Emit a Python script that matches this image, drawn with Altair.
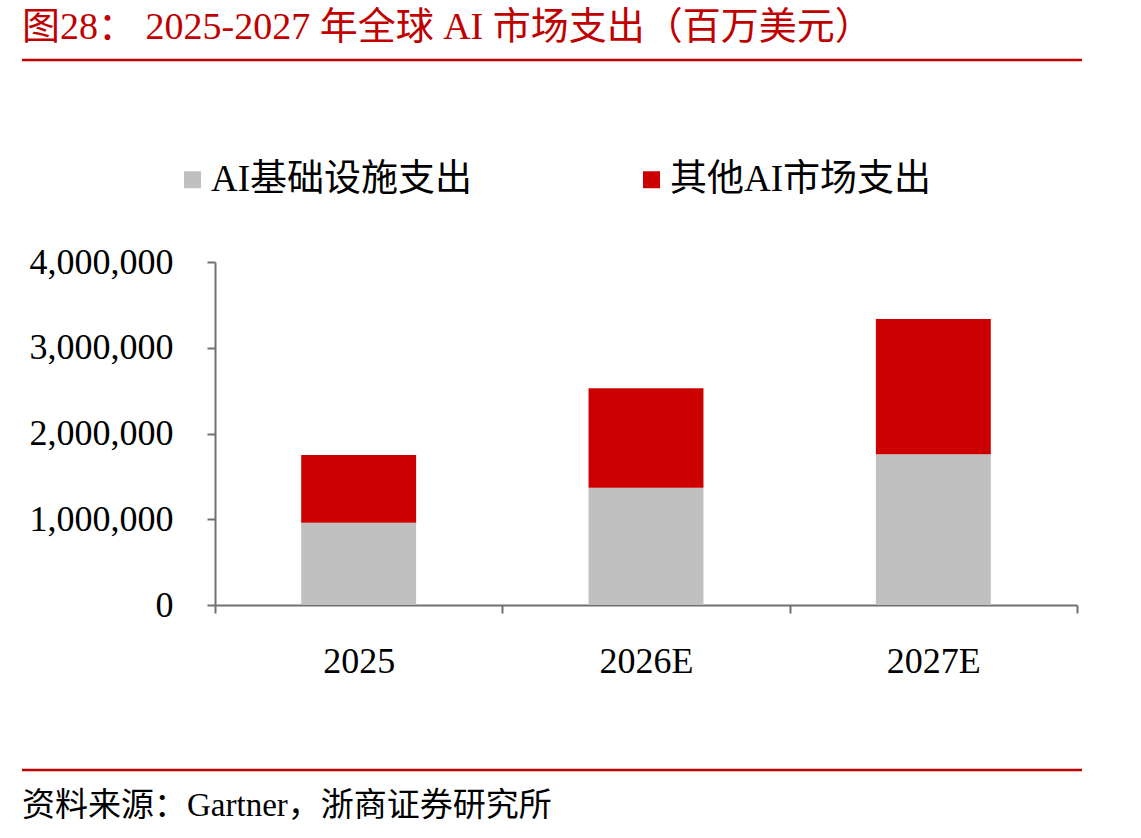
import altair as alt
import pandas as pd

years = ["2025", "2026E", "2027E"]
infra = [960000, 1368000, 1757000]
other = [789000, 1159000, 1578000]
series = ["AI基础设施支出", "其他AI市场支出"]
colors = ["#c0c0c0", "#cc0000"]
y_ticks = [0, 1000000, 2000000, 3000000, 4000000]

title_text = "图28：  2025-2027 年全球 AI 市场支出（百万美元）"
source_text = "资料来源：Gartner，浙商证券研究所"

rows = []
for i, yr in enumerate(years):
    rows.append({"year": yr, "series": series[0], "value": infra[i], "k": 0})
    rows.append({"year": yr, "series": series[1], "value": other[i], "k": 1})
df = pd.DataFrame(rows)

SERIF = "Liberation Serif, Noto Sans CJK SC"
RED = "#c00000"
AXIS_GREY = "#707070"

bars = alt.Chart(df).mark_bar(width=alt.RelativeBandSize(0.4)).encode(
    x=alt.X(
        "year:N",
        sort=years,
        scale=alt.Scale(paddingInner=0, paddingOuter=0),
        axis=alt.Axis(
            title=None, labelAngle=0, tickBand="extent", tickSize=8,
            tickColor=AXIS_GREY, tickWidth=2, domainColor=AXIS_GREY, domainWidth=2,
            labelFont=SERIF, labelFontSize=36, labelColor="#000000",
            labelPadding=31, grid=False,
        ),
    ),
    y=alt.Y(
        "value:Q",
        stack="zero",
        scale=alt.Scale(domain=[0, 4000000], nice=False),
        axis=alt.Axis(
            title=None, values=y_ticks, format=",d", tickSize=8,
            tickColor=AXIS_GREY, tickWidth=2, domainColor=AXIS_GREY, domainWidth=2,
            labelFont=SERIF, labelFontSize=36, labelColor="#000000",
            labelPadding=34, grid=False,
        ),
    ),
    color=alt.Color(
        "series:N",
        scale=alt.Scale(domain=series, range=colors),
        legend=alt.Legend(
            title=None, orient="none", legendX=-41, legendY=-101,
            direction="horizontal", symbolType="square", symbolSize=289,
            symbolStrokeWidth=0, labelFont=SERIF, labelFontSize=37,
            labelColor="#000000", labelLimit=500, labelOffset=0,
            columnPadding=160,
        ),
    ),
    order=alt.Order("k:Q", sort="ascending"),
)

title_layer = alt.Chart(pd.DataFrame({"t": [title_text]})).mark_text(
    align="left", baseline="alphabetic", font=SERIF, fontSize=38, color=RED
).encode(x=alt.value(-193), y=alt.value(-223), text="t:N")

top_rule = alt.Chart(pd.DataFrame({"a": [0]})).mark_rule(
    color=RED, strokeWidth=2.5
).encode(x=alt.value(-193), x2=alt.value(867), y=alt.value(-202))

bottom_rule = alt.Chart(pd.DataFrame({"a": [0]})).mark_rule(
    color=RED, strokeWidth=2.5
).encode(x=alt.value(-193), x2=alt.value(867), y=alt.value(508))

source_layer = alt.Chart(pd.DataFrame({"t": [source_text]})).mark_text(
    align="left", baseline="alphabetic", font=SERIF, fontSize=33, color="#000000"
).encode(x=alt.value(-193), y=alt.value(554), text="t:N")

chart = alt.layer(bars, title_layer, top_rule, bottom_rule, source_layer).properties(
    width=862,
    height=343,
    padding={"left": 215, "top": 262, "right": 64, "bottom": 233},
    autosize=alt.AutoSizeParams(type="none"),
    background="#ffffff",
).configure_view(stroke=None)

chart.save("out.html", embed_options={"renderer": "svg", "actions": False})
